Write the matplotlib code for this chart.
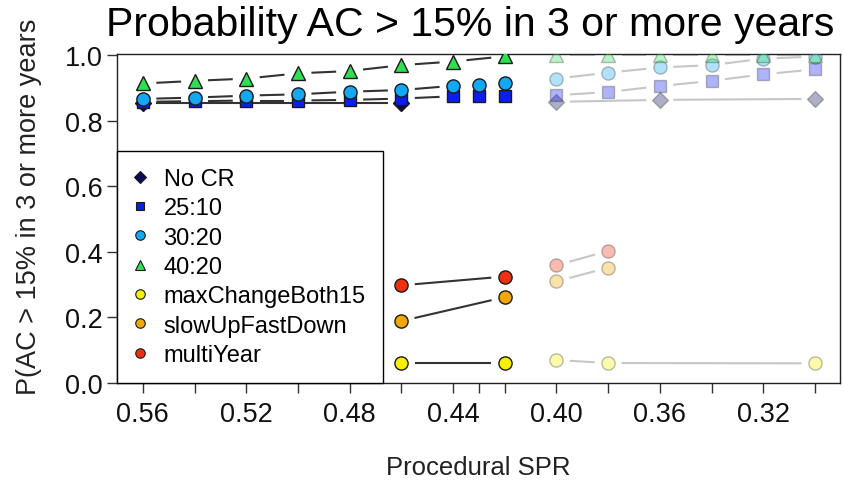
import numpy as np
import matplotlib
matplotlib.use("Agg")
import matplotlib.pyplot as plt
from matplotlib.lines import Line2D

plt.rcParams['font.family'] = ['Liberation Sans', 'DejaVu Sans']

# ---------------- data ----------------
title = "Probability AC > 15% in 3 or more years"
xlabel = "Procedural SPR"
ylabel = "P(AC > 15% in 3 or more years"

x_ticks = [0.56, 0.54, 0.52, 0.50, 0.48, 0.46, 0.44, 0.43, 0.42,
           0.40, 0.38, 0.36, 0.34, 0.32, 0.30]
x_ticklabels = {0.56: "0.56", 0.52: "0.52", 0.48: "0.48", 0.44: "0.44",
                0.40: "0.40", 0.36: "0.36", 0.32: "0.32"}
y_ticks = [0.0, 0.2, 0.4, 0.6, 0.8, 1.0]

# solid (left) group
nocr_x = [0.56, 0.46]
nocr_y = [0.855, 0.855]
r2510_x = [0.56, 0.54, 0.52, 0.50, 0.48, 0.46, 0.44, 0.43, 0.42]
r2510_y = [0.858, 0.860, 0.862, 0.862, 0.864, 0.868, 0.875, 0.875, 0.875]
r3020_x = [0.56, 0.54, 0.52, 0.50, 0.48, 0.46, 0.44, 0.43, 0.42]
r3020_y = [0.867, 0.871, 0.877, 0.881, 0.889, 0.894, 0.907, 0.909, 0.917]
r4020_x = [0.56, 0.54, 0.52, 0.50, 0.48, 0.46, 0.44, 0.42]
r4020_y = [0.914, 0.922, 0.929, 0.945, 0.952, 0.970, 0.981, 0.997]
maxc_x = [0.46, 0.42]
maxc_y = [0.061, 0.061]
slow_x = [0.46, 0.42]
slow_y = [0.189, 0.262]
multi_x = [0.46, 0.42]
multi_y = [0.298, 0.325]

# faded (right) group
nocr_fx = [0.40, 0.36, 0.30]
nocr_fy = [0.858, 0.864, 0.867]
r2510_fx = [0.40, 0.38, 0.36, 0.34, 0.32, 0.30]
r2510_fy = [0.878, 0.888, 0.906, 0.922, 0.942, 0.957]
r3020_fx = [0.40, 0.38, 0.36, 0.34, 0.32, 0.30]
r3020_fy = [0.929, 0.947, 0.963, 0.970, 0.990, 0.996]
r4020_fx = [0.40, 0.38, 0.36, 0.34, 0.32, 0.30]
r4020_fy = [1.0, 1.0, 1.0, 1.0, 1.0, 1.0]
maxc_fx = [0.40, 0.38, 0.30]
maxc_fy = [0.070, 0.061, 0.060]
slow_fx = [0.40, 0.38]
slow_fy = [0.310, 0.352]
multi_fx = [0.40, 0.38]
multi_fy = [0.359, 0.403]

labels = ["No CR", "25:10", "30:20", "40:20", "maxChangeBoth15",
          "slowUpFastDown", "multiYear"]
colors = ["#0b0b55", "#0a1ef0", "#12a8f2", "#2ee052", "#f6f000",
          "#f2a800", "#ee3010"]
markers = ["D", "s", "o", "^", "o", "o", "o"]
msizes = [8.0, 8.5, 9.5, 10.5, 9.5, 9.5, 9.5]

solid = [(nocr_x, nocr_y), (r2510_x, r2510_y), (r3020_x, r3020_y),
         (r4020_x, r4020_y), (maxc_x, maxc_y), (slow_x, slow_y),
         (multi_x, multi_y)]
faded = [(nocr_fx, nocr_fy), (r2510_fx, r2510_fy), (r3020_fx, r3020_fy),
         (r4020_fx, r4020_fy), (maxc_fx, maxc_fy), (slow_fx, slow_fy),
         (multi_fx, multi_fy)]

# ---------------- figure ----------------
W, H = 845, 489
fig = plt.figure(figsize=(W / 100, H / 100), dpi=100)
ax = fig.add_axes([117 / W, 1 - 384 / H, (840 - 117) / W, (384 - 55) / H])
ax.set_xlim(0.570, 0.2903)
ax.set_ylim(0.0, 1.004)

GAP = 13.5  # pixel gap around points, like R type="b"


def gapped_lines(xs, ys, color, lw, alpha=1.0):
    pts = ax.transData.transform(np.column_stack([xs, ys]))
    inv = ax.transData.inverted()
    for i in range(len(pts) - 1):
        p0, p1 = pts[i], pts[i + 1]
        d = p1 - p0
        L = np.hypot(*d)
        if L <= 2 * GAP:
            continue
        u = d / L
        a = inv.transform(p0 + u * GAP)
        b = inv.transform(p1 - u * GAP)
        ax.plot([a[0], b[0]], [a[1], b[1]], color=color, lw=lw,
                alpha=alpha, solid_capstyle='butt', zorder=2)


fig.canvas.draw()

# faded group
for (xs, ys), c, m, ms in zip(faded, colors, markers, msizes):
    gapped_lines(xs, ys, "#b8b8b8", 1.5, 0.8)
    ax.plot(xs, ys, linestyle='none', marker=m, markersize=ms,
            markerfacecolor=c, markeredgecolor="#333333", markeredgewidth=1.0,
            alpha=0.33, zorder=3)

# solid group
handles = []
for (xs, ys), c, m, ms, lab in zip(solid, colors, markers, msizes, labels):
    gapped_lines(xs, ys, "#333333", 1.5)
    ax.plot(xs, ys, linestyle='none', marker=m, markersize=ms,
            markerfacecolor=c, markeredgecolor="#1a1a1a", markeredgewidth=1.0,
            zorder=4)
    handles.append(Line2D([], [], linestyle='none', marker=m,
                          markersize=ms * 0.72, markerfacecolor=c,
                          markeredgecolor="#1a1a1a", markeredgewidth=0.8,
                          label=lab))

leg = ax.legend(handles=handles, loc='lower left', bbox_to_anchor=(0, 0),
                borderaxespad=0, fontsize=17, frameon=True, fancybox=False,
                edgecolor='black', framealpha=1, labelspacing=0.31,
                borderpad=0.72, handlelength=0.5, handletextpad=0.75,
                handleheight=0.7)
leg.get_frame().set_linewidth(1.0)
leg.set_zorder(10)

# axes styling
ax.set_xticks(x_ticks)
ax.set_xticklabels([x_ticklabels.get(t, "") for t in x_ticks])
ax.set_yticks(y_ticks)
ax.set_yticklabels([f"{v:.1f}" for v in y_ticks])
ax.tick_params(axis='both', direction='out', length=7, width=1.0,
               color='#333333', labelsize=19.5, labelcolor='#111111')
ax.tick_params(axis='x', pad=6)
ax.tick_params(axis='y', pad=3)
for s in ax.spines.values():
    s.set_linewidth(1.0)
    s.set_color('#222222')

ax.set_xlabel(xlabel, fontsize=18.5, color='#222222', labelpad=20)
ax.set_ylabel(ylabel, fontsize=19.5, color='#222222')
ax.yaxis.set_label_coords(-0.104, 0.54)
fig.text(470 / W, 1 - 25 / H, title, fontsize=29.5, ha='center', va='center',
         color='black')

fig.savefig("out.png", dpi=100)
